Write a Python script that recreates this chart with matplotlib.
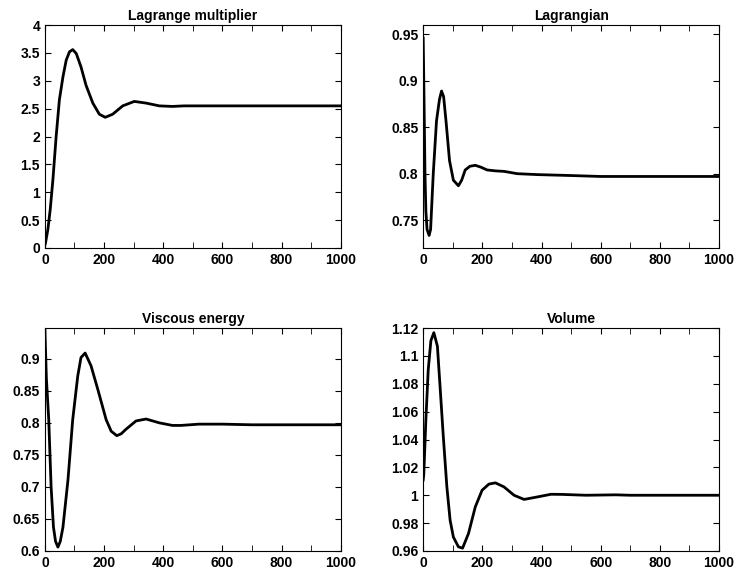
import matplotlib
matplotlib.use('Agg')
import matplotlib.pyplot as plt
from matplotlib.ticker import MultipleLocator, FuncFormatter

plt.rcParams['font.family'] = ['Liberation Sans', 'DejaVu Sans']
plt.rcParams['font.weight'] = 'bold'

# Lagrange multiplier
x_lm = [0, 2, 10, 18, 27, 38, 49, 61, 72, 83, 94, 106, 122, 139, 162, 184, 204, 229,
        263, 302, 342, 387, 431, 470, 1000]
y_lm = [0.05, 0.09, 0.33, 0.69, 1.22, 2.0, 2.66, 3.07, 3.37, 3.52, 3.56, 3.49, 3.25,
        2.92, 2.6, 2.40, 2.345, 2.40, 2.55, 2.63, 2.6, 2.55, 2.54, 2.55, 2.55]

# Lagrangian
x_lg = [0, 2, 4, 6, 9, 13, 20, 25, 34, 45, 55, 62, 69, 77, 89, 102, 119, 130, 142, 158,
        176, 195, 216, 245, 273, 318, 386, 500, 600, 1000]
y_lg = [0.946, 0.9, 0.85, 0.8, 0.76, 0.74, 0.7335, 0.74, 0.80, 0.857, 0.88, 0.889,
        0.883, 0.857, 0.814, 0.793, 0.787, 0.793, 0.804, 0.808, 0.809, 0.807, 0.804,
        0.803, 0.8025, 0.800, 0.799, 0.798, 0.797, 0.797]

# Viscous energy
x_ve = [0, 5, 13, 21, 29, 36, 44, 52, 61, 78, 94, 111, 122, 136, 156, 179, 207, 224,
        243, 258, 274, 308, 342, 387, 431, 460, 520, 600, 700, 1000]
y_ve = [0.947, 0.87, 0.805, 0.70, 0.637, 0.615, 0.606, 0.615, 0.637, 0.711, 0.805,
        0.873, 0.902, 0.909, 0.889, 0.852, 0.805, 0.787, 0.780, 0.783, 0.79, 0.803,
        0.806, 0.80, 0.796, 0.796, 0.798, 0.798, 0.797, 0.797]

# Volume
x_vo = [0, 2, 9, 17, 26, 36, 48, 57, 68, 80, 91, 102, 119, 133, 153, 176, 199, 222,
        244, 273, 307, 341, 386, 432, 470, 550, 650, 700, 1000]
y_vo = [1.011, 1.015, 1.054, 1.09, 1.111, 1.1167, 1.107, 1.078, 1.042, 1.006, 0.982,
        0.970, 0.963, 0.962, 0.9725, 0.9916, 1.0036, 1.008, 1.0089, 1.006, 1.0, 0.997,
        0.9988, 1.0007, 1.0006, 1.0, 1.0003, 1.0, 1.0]

panels = [
    ('Lagrange multiplier', x_lm, y_lm, (0, 4), 0.5, [0.061, 0.5717, 0.402, 0.385]),
    ('Lagrangian', x_lg, y_lg, (0.72, 0.96), 0.05, [0.575, 0.5717, 0.402, 0.385]),
    ('Viscous energy', x_ve, y_ve, (0.6, 0.948), 0.05, [0.061, 0.0484, 0.402, 0.385]),
    ('Volume', x_vo, y_vo, (0.96, 1.12), 0.02, [0.575, 0.0484, 0.402, 0.385]),
]

fig = plt.figure(figsize=(7.36, 5.79), dpi=100)
for title, xs, ys, ylim, ystep, pos in panels:
    ax = fig.add_axes(pos)
    ax.plot(xs, ys, color='black', lw=2.0, solid_joinstyle='round')
    ax.set_xlim(0, 1000)
    ax.set_ylim(*ylim)
    ax.xaxis.set_major_locator(MultipleLocator(200))
    ax.xaxis.set_minor_locator(MultipleLocator(100))
    ax.yaxis.set_major_locator(MultipleLocator(ystep))
    ax.yaxis.set_major_formatter(FuncFormatter(lambda v, p: '%g' % round(v, 4)))
    ax.tick_params(which='both', direction='in', top=True, right=True, labelsize=10)
    ax.tick_params(which='both', length=4)
    for lab in ax.get_xticklabels() + ax.get_yticklabels():
        lab.set_fontweight('bold')
    ax.set_title(title, fontsize=10, fontweight='bold', pad=4)

fig.savefig('out.png', dpi=100)
